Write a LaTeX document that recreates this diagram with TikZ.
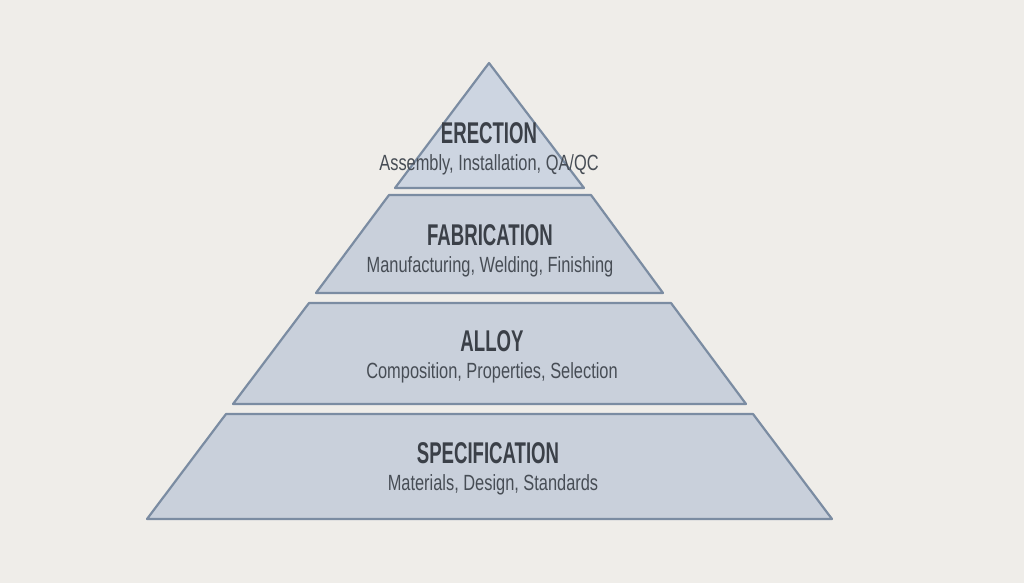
\documentclass[tikz,border=0pt]{standalone}
\usepackage{fontspec}
\newfontfamily\tiertitlefont{Liberation Sans}[FakeStretch=0.62]
\newfontfamily\tiersubfont{Liberation Sans}[FakeStretch=0.745]
\usetikzlibrary{positioning}
\definecolor{paper}{HTML}{EFEDE9}
\definecolor{tierfill}{HTML}{C9D0DB}
\definecolor{tiertop}{HTML}{CDD5E1}
\definecolor{tierline}{HTML}{7B8CA2}
\definecolor{inkdark}{HTML}{3B4048}
\definecolor{inksoft}{HTML}{474D55}

\begin{document}
\begin{tikzpicture}[x=1pt,y=-1pt,line cap=round,line join=round,
 tier/.style={fill=tierfill,draw=tierline,line width=2.2pt},
 tiername/.style={inkdark,font=\tiertitlefont\bfseries\fontsize{30}{32}\selectfont,inner sep=0pt},
 tiernote/.style={inksoft,font=\tiersubfont\fontsize{22}{24}\selectfont,inner sep=0pt}]
\fill[paper] (0,0) rectangle (1024,583);
\useasboundingbox (0,0) rectangle (1024,583);
% Four stacked tiers, one common slope.
\draw[tier,fill=tiertop] (489,63)--(584,188)--(395,188)--cycle;
\draw[tier] (389,195)--(591,195)--(663,293)--(316,293)--cycle;
\draw[tier] (309,303)--(671,303)--(746,404)--(233,404)--cycle;
\draw[tier] (226,414)--(753,414)--(832,519)--(147,519)--cycle;
% Tier labels.
\node[tiername] (erection) at (489,133) {ERECTION};
\node[tiernote,below=11pt of erection] (erectionnote) {Assembly, Installation, QA/QC};
\node[tiername] (fabrication) at (490,235) {FABRICATION};
\node[tiernote,below=11pt of fabrication] (fabricationnote) {Manufacturing, Welding, Finishing};
\node[tiername] (alloy) at (492,341) {ALLOY};
\node[tiernote,below=11pt of alloy] (alloynote) {Composition, Properties, Selection};
\node[tiername] (specification) at (488,453) {SPECIFICATION};
\node[tiernote,below=11pt of specification,xshift=5pt] (specificationnote) {Materials, Design, Standards};
\end{tikzpicture}
\end{document}
